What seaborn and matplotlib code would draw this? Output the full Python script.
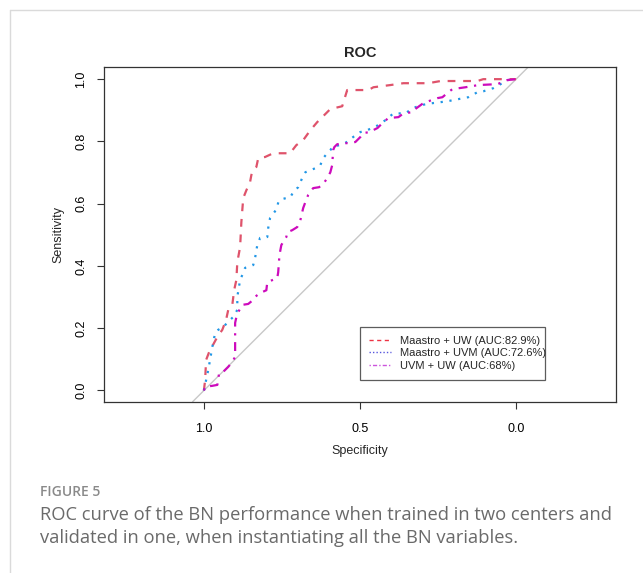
import numpy as np
import pandas as pd
import matplotlib
matplotlib.use("Agg")
import matplotlib.pyplot as plt
from matplotlib.lines import Line2D
import seaborn as sns

# ---------------- data ----------------
red_spec = [1.0, 0.996, 0.993, 0.983, 0.957, 0.941, 0.929, 0.922, 0.909, 0.903, 0.896, 0.893,
            0.884, 0.880, 0.874, 0.864, 0.852, 0.848, 0.842, 0.832, 0.826, 0.804, 0.778, 0.724,
            0.704, 0.682, 0.659, 0.637, 0.618, 0.595, 0.557, 0.541, 0.515, 0.473, 0.457, 0.403,
            0.361, 0.281, 0.242, 0.124, 0.105, 0.0]
red_sens = [0.0, 0.034, 0.098, 0.124, 0.172, 0.195, 0.227, 0.259, 0.275, 0.323, 0.355, 0.412,
            0.461, 0.541, 0.618, 0.643, 0.670, 0.692, 0.708, 0.718, 0.746, 0.750, 0.762, 0.762,
            0.788, 0.804, 0.836, 0.862, 0.881, 0.904, 0.913, 0.965, 0.965, 0.965, 0.974, 0.981,
            0.987, 0.987, 0.994, 0.994, 1.0, 1.0]

blue_spec = [1.0, 0.986, 0.973, 0.964, 0.954, 0.938, 0.916, 0.906, 0.893, 0.893, 0.884, 0.877,
             0.868, 0.858, 0.842, 0.836, 0.829, 0.820, 0.797, 0.794, 0.788, 0.781, 0.765, 0.762,
             0.749, 0.723, 0.714, 0.698, 0.691, 0.681, 0.675, 0.643, 0.627, 0.618, 0.605, 0.595,
             0.586, 0.563, 0.547, 0.522, 0.499, 0.477, 0.442, 0.419, 0.393, 0.371, 0.355, 0.332,
             0.307, 0.275, 0.243, 0.220, 0.169, 0.153, 0.124, 0.105, 0.073, 0.060, 0.028, 0.0]
blue_sens = [0.0, 0.066, 0.140, 0.185, 0.195, 0.204, 0.227, 0.236, 0.259, 0.301, 0.355, 0.371,
             0.394, 0.397, 0.403, 0.426, 0.467, 0.490, 0.493, 0.522, 0.554, 0.563, 0.586, 0.605,
             0.615, 0.621, 0.637, 0.653, 0.669, 0.692, 0.701, 0.714, 0.724, 0.746, 0.762, 0.772,
             0.785, 0.788, 0.795, 0.814, 0.830, 0.836, 0.852, 0.868, 0.890, 0.890, 0.890, 0.906,
             0.916, 0.922, 0.926, 0.929, 0.939, 0.942, 0.958, 0.961, 0.971, 0.978, 0.997, 1.0]

purple_spec = [1.0, 0.996, 0.973, 0.957, 0.951, 0.938, 0.922, 0.909, 0.900, 0.900, 0.896, 0.890,
               0.877, 0.858, 0.842, 0.836, 0.820, 0.800, 0.797, 0.765, 0.762, 0.758, 0.752, 0.746,
               0.736, 0.733, 0.717, 0.701, 0.698, 0.691, 0.682, 0.675, 0.666, 0.650, 0.631, 0.618,
               0.605, 0.595, 0.589, 0.586, 0.582, 0.573, 0.538, 0.515, 0.499, 0.490, 0.467, 0.458,
               0.444, 0.425, 0.409, 0.377, 0.361, 0.332, 0.323, 0.297, 0.281, 0.252, 0.236, 0.217,
               0.204, 0.162, 0.121, 0.060, 0.028, 0.0]
purple_sens = [0.0, 0.012, 0.015, 0.018, 0.057, 0.060, 0.076, 0.092, 0.108, 0.217, 0.236, 0.252,
               0.275, 0.278, 0.291, 0.301, 0.313, 0.322, 0.348, 0.361, 0.380, 0.435, 0.467, 0.477,
               0.493, 0.508, 0.515, 0.525, 0.532, 0.547, 0.586, 0.605, 0.628, 0.650, 0.653, 0.663,
               0.682, 0.701, 0.724, 0.772, 0.782, 0.791, 0.795, 0.798, 0.814, 0.827, 0.830, 0.836,
               0.843, 0.862, 0.875, 0.878, 0.890, 0.894, 0.904, 0.923, 0.929, 0.939, 0.942, 0.958,
               0.968, 0.974, 0.981, 0.984, 0.997, 1.0]

series_names = ["Maastro + UW (AUC:82.9%)", "Maastro + UVM (AUC:72.6%)", "UVM + UW (AUC:68%)"]
x_ticks = [1.0, 0.5, 0.0]
x_ticklabels = ["1.0", "0.5", "0.0"]
y_ticks = [0.0, 0.2, 0.4, 0.6, 0.8, 1.0]
y_ticklabels = ["0.0", "0.2", "0.4", "0.6", "0.8", "1.0"]

# ---------------- styling ----------------
sns.set_theme(style="white")
plt.rcParams["font.family"] = ["Liberation Sans", "DejaVu Sans"]

curve_colors = {series_names[0]: "#DF536B", series_names[1]: "#2297E6", series_names[2]: "#CD0BBC"}
curve_dashes = {series_names[0]: (3.5, 3.5), series_names[1]: (1, 3), series_names[2]: (1, 3, 4, 3)}
legend_colors = ["#EE3344", "#5555DD", "#CC55DD"]

frames = []
for name, sx, sy in zip(series_names, [red_spec, blue_spec, purple_spec],
                        [red_sens, blue_sens, purple_sens]):
    frames.append(pd.DataFrame({"Specificity": sx, "Sensitivity": sy, "model": name}))
df = pd.concat(frames, ignore_index=True)

W, H = 643, 573
fig = plt.figure(figsize=(W / 100, H / 100), dpi=100)
fig.patch.set_facecolor("white")

ax_l, ax_r, ax_t, ax_b = 104, 616, 66.7, 401.7
ax = fig.add_axes([ax_l / W, 1 - ax_b / H, (ax_r - ax_l) / W, (ax_b - ax_t) / H])

ax.axline((1.0, 0.0), slope=-1, color="#C8C8C8", lw=1.0, zorder=1)

sns.lineplot(data=df, x="Specificity", y="Sensitivity", hue="model", style="model",
             palette=curve_colors, dashes=curve_dashes, sort=False, estimator=None,
             lw=1.6, legend=False, ax=ax, zorder=3)

ax.set_xlim(1.32, -0.32)
ax.set_ylim(-0.036, 1.04)
ax.set_xticks(x_ticks)
ax.set_xticklabels(x_ticklabels)
ax.set_yticks(y_ticks)
ax.set_yticklabels(y_ticklabels)
ax.tick_params(axis="both", direction="out", length=5, width=0.8, color="#333333",
               labelsize=9, pad=7, labelcolor="black", bottom=True, left=True)
ax.tick_params(axis="x", pad=10)
ax.tick_params(axis="y", labelrotation=90)
for lab in ax.get_yticklabels():
    lab.set_va("center")
for sp in ax.spines.values():
    sp.set_visible(True)
    sp.set_color("#333333")
    sp.set_linewidth(0.9)

ax.set_xlabel("Specificity", fontsize=9)
ax.set_ylabel("Sensitivity", fontsize=9)
ax.xaxis.set_label_coords(0.5, -0.128)
ax.yaxis.set_label_coords(-0.078, 0.5)
ax.set_title("ROC", fontsize=10.5, fontweight="bold", pad=7)

handles = [Line2D([0], [0], color=legend_colors[0], lw=1, dashes=(3, 2.5)),
           Line2D([0], [0], color=legend_colors[1], lw=1, dashes=(1, 1.5)),
           Line2D([0], [0], color=legend_colors[2], lw=1, dashes=(1, 1.5, 3, 1.5))]
leg = ax.legend(handles, series_names, loc="lower left", bbox_to_anchor=(0.5, 0.065, 0.361, 0.158),
                mode="expand", fontsize=8, frameon=True, fancybox=False, borderaxespad=0,
                handlelength=2.0, handletextpad=0.8, labelspacing=0.24, borderpad=0.8)
leg.get_frame().set_edgecolor("#333333")
leg.get_frame().set_linewidth(0.9)

# page frame lines
fig.add_artist(Line2D([10 / W, 1.0], [1 - 9.5 / H, 1 - 9.5 / H], color="#DADADA", lw=1))
fig.add_artist(Line2D([10 / W, 10 / W], [1 - 9.5 / H, 0.0], color="#DADADA", lw=1))

cap_font = ["Open Sans", "DejaVu Sans"]
fig.text(40 / W, 1 - 492 / H, "FIGURE 5", fontsize=10, color="#8A8A8A", fontweight="semibold",
         family=cap_font, va="center", ha="left")
fig.text(40 / W, 1 - 515 / H, "ROC curve of the BN performance when trained in two centers and",
         fontsize=13.2, color="#6A6A6A", family=cap_font, va="center", ha="left")
fig.text(40 / W, 1 - 538 / H, "validated in one, when instantiating all the BN variables.",
         fontsize=13.2, color="#6A6A6A", family=cap_font, va="center", ha="left")

fig.savefig("out.png", dpi=100, facecolor="white")
